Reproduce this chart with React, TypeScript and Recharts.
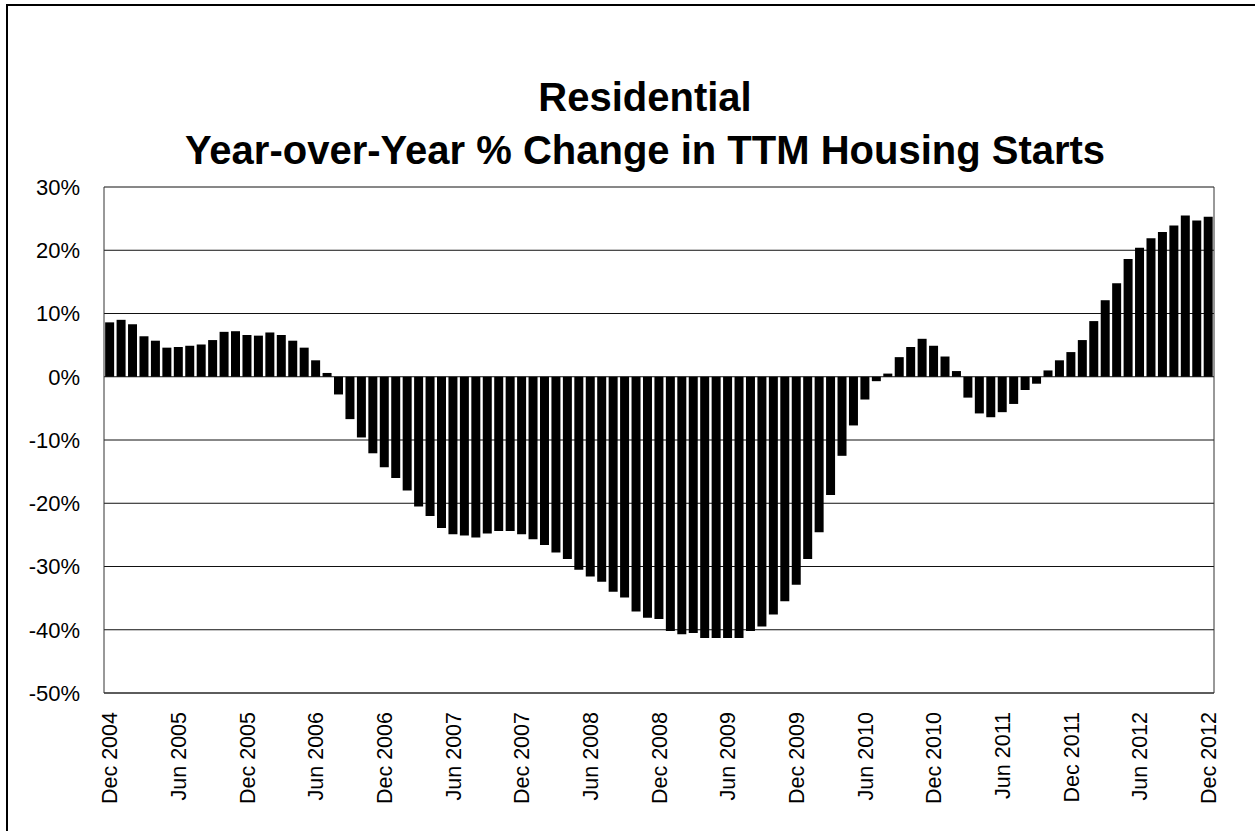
import { BarChart, Bar, XAxis, YAxis, CartesianGrid } from 'recharts';

const FONT = '"Liberation Sans", Arial, Helvetica, sans-serif';

// monthly categories, Dec 2004 .. Dec 2012
const MONTH_NAMES = ['Jan', 'Feb', 'Mar', 'Apr', 'May', 'Jun', 'Jul', 'Aug', 'Sep', 'Oct', 'Nov', 'Dec'];
const months: string[] = [];
for (let i = 0; i < 97; i++) {
  const k = 11 + i;
  months.push(`${MONTH_NAMES[k % 12]} ${2004 + Math.floor(k / 12)}`);
}

// YoY % change in trailing-twelve-month starts
const yoyChange = [
  8.6, 9.0, 8.3, 6.4, 5.7, 4.6, 4.7, 4.9, 5.1, 5.8, 7.1, 7.2,
  6.6, 6.5, 7.0, 6.6, 5.7, 4.6, 2.6, 0.6, -2.8, -6.7, -9.6, -12.1,
  -14.3, -16.0, -18.0, -20.5, -22.0, -23.9, -24.9, -25.1, -25.4, -24.8, -24.4, -24.4,
  -24.9, -25.7, -26.6, -27.8, -28.8, -30.5, -31.6, -32.4, -34.0, -34.9, -37.1, -38.1,
  -38.3, -40.2, -40.7, -40.5, -41.3, -41.3, -41.3, -41.3, -40.2, -39.5, -37.6, -35.5,
  -32.9, -28.8, -24.6, -18.7, -12.5, -7.7, -3.6, -0.7, 0.5, 3.1, 4.7, 6.0,
  4.9, 3.2, 0.9, -3.3, -5.8, -6.4, -5.6, -4.3, -2.1, -1.1, 1.0, 2.6,
  3.9, 5.8, 8.8, 12.1, 14.8, 18.6, 20.4, 21.9, 22.9, 23.9, 25.5, 24.7,
  25.3,
];

const yTicks = [30, 20, 10, 0, -10, -20, -30, -40, -50];

const data = months.map((name, i) => ({ name, value: yoyChange[i] }));

function MonthTick({ x, y, payload }: any) {
  return (
    <text
      transform={`translate(${x},${y}) rotate(-90)`}
      x={-19}
      y={0}
      dy="0.36em"
      textAnchor="end"
      fontSize={21.5}
      fontFamily={FONT}
      fill="#000"
    >
      {payload.value}
    </text>
  );
}

export default function App() {
  return (
    <div
      style={{
        position: 'absolute',
        left: 0,
        top: 0,
        width: 1255,
        height: 831,
        background: '#fff',
        overflow: 'hidden',
      }}
    >
      {/* scanned frame: only the left and top edges are visible */}
      <div
        style={{
          position: 'absolute',
          left: 6,
          top: 4,
          width: 1249,
          height: 827,
          borderLeft: '2px solid #000',
          borderTop: '2px solid #000',
        }}
      />
      <svg width={1255} height={180} style={{ position: 'absolute', left: 0, top: 0 }}>
        <text x={645} y={111} textAnchor="middle" fontSize={40} fontWeight="bold" fontFamily={FONT} fill="#000">
          Residential
        </text>
        <text x={645} y={164} textAnchor="middle" fontSize={40} fontWeight="bold" fontFamily={FONT} fill="#000">
          Year-over-Year % Change in TTM Housing Starts
        </text>
      </svg>
      <div style={{ position: 'absolute', left: 0, top: 0 }}>
        <BarChart
          width={1255}
          height={831}
          data={data}
          margin={{ top: 187, right: 40, left: 8, bottom: 18 }}
          barCategoryGap="10%"
        >
          <CartesianGrid horizontal vertical={false} stroke="#111" strokeWidth={1} />
          <XAxis
            dataKey="name"
            interval={5}
            tickLine={false}
            tickSize={0}
            tickMargin={0}
            height={120}
            axisLine={{ stroke: '#333' }}
            tick={<MonthTick />}
          />
          <YAxis
            domain={[-50, 30]}
            ticks={yTicks}
            width={96}
            tickLine={false}
            tickSize={0}
            tickMargin={24}
            axisLine={{ stroke: '#333' }}
            tickFormatter={(v: number) => `${v}%`}
            tick={{ fill: '#000', fontSize: 22, fontFamily: FONT }}
          />
          <YAxis
            yAxisId="frame"
            orientation="right"
            domain={[-50, 30]}
            width={1}
            tick={false}
            tickLine={false}
            axisLine={{ stroke: '#333' }}
          />
          <Bar dataKey="value" fill="#000" isAnimationActive={false} />
        </BarChart>
      </div>
    </div>
  );
}
